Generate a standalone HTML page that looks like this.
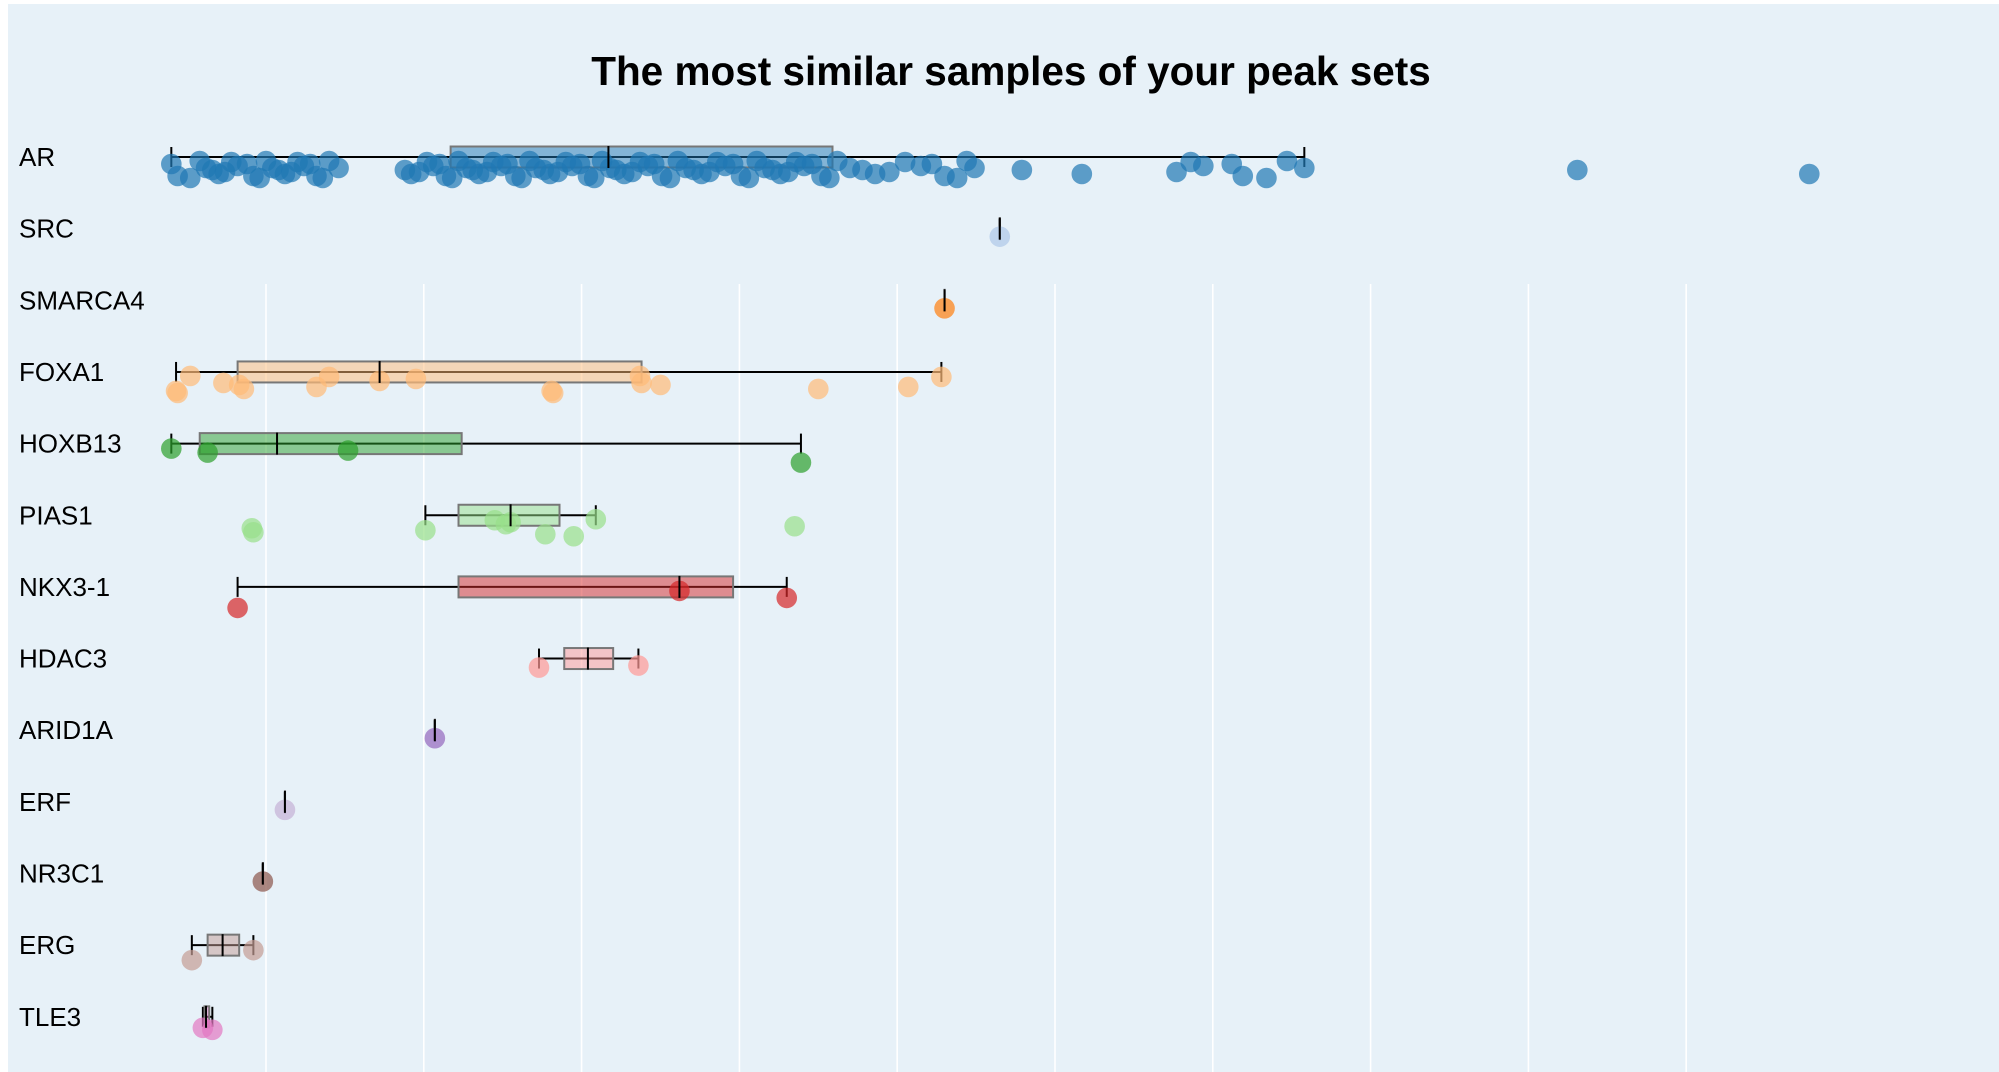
<!DOCTYPE html>
<html><head><meta charset="utf-8">
<style>
html,body{margin:0;padding:0;background:#fff;}
svg{display:block;font-family:"Liberation Sans",Arial,sans-serif;}
</style></head>
<body>
<svg id="chart" width="1999" height="1072" viewBox="0 0 1999 1072" xmlns="http://www.w3.org/2000/svg">
<rect x="8" y="4" width="1991" height="1068" fill="#e7f1f8"/>
<text x="1011" y="85" text-anchor="middle" font-size="40.5" font-weight="bold" fill="#000">The most similar samples of your peak sets</text>
<g id="grid"></g><g id="rows"></g>
</svg>
<script>
const categories=["AR","SRC","SMARCA4","FOXA1","HOXB13","PIAS1","NKX3-1","HDAC3","ARID1A","ERF","NR3C1","ERG","TLE3"];
const colors=["#1f77b4","#aec7e8","#ff7f0e","#ffbb78","#2ca02c","#98df8a","#d62728","#ff9896","#9467bd","#c5b0d5","#8c564b","#c49c94","#e377c2"];
const boxStats=[
 [0.40,2.17,3.17,4.59,7.58],[5.65,5.65,5.65,5.65,5.65],[5.30,5.30,5.30,5.30,5.30],
 [0.43,0.82,1.72,3.38,5.28],[0.40,0.58,1.07,2.24,4.39],[2.01,2.22,2.55,2.86,3.09],
 [0.82,2.22,3.62,3.96,4.30],[2.73,2.89,3.04,3.20,3.36],[2.07,2.07,2.07,2.07,2.07],
 [1.12,1.12,1.12,1.12,1.12],[0.98,0.98,0.98,0.98,0.98],[0.53,0.63,0.725,0.83,0.92],
 [0.60,0.61,0.62,0.64,0.66]];
const pointsAR=[0.40,0.44,0.52,0.58,0.62,0.66,0.70,0.74,0.78,0.82,0.88,0.92,0.96,1.00,1.04,1.08,1.12,1.16,1.20,1.24,1.28,1.32,1.36,1.40,1.46,
1.88,1.92,1.97,2.02,2.06,2.10,2.14,2.18,2.22,2.27,2.31,2.35,2.40,2.44,2.49,2.53,2.58,2.62,2.67,2.71,2.76,2.80,2.85,2.90,2.94,2.99,3.04,3.08,3.13,3.18,3.22,3.27,3.32,3.37,3.42,3.46,3.51,3.56,3.61,3.66,3.71,3.76,3.81,3.86,3.91,3.96,4.01,4.06,4.11,4.16,4.21,4.26,4.31,4.36,4.41,4.46,4.52,4.57,4.62,4.70,4.78,4.86,4.95,5.05,5.15,5.22,5.30,5.38,5.44,5.49,
5.79,6.17,6.77,6.86,6.94,7.12,7.19,7.34,7.47,7.58,9.31,10.78];
const pointsOther=[
 [5.65],[5.30],
 [0.43,0.44,0.52,0.73,0.83,0.86,1.32,1.40,1.72,1.95,2.81,2.82,3.37,3.38,3.50,4.50,5.07,5.28],
 [0.40,0.63,1.52,4.39],
 [0.91,0.92,2.01,2.45,2.52,2.55,2.77,2.95,3.09,4.35],
 [0.82,3.62,4.30],[2.73,3.36],[2.07],[1.12],[0.98],[0.53,0.92],[0.60,0.66]];
const gridTicks=[1,2,3,4,5,6,7,8,9,10];

const X0=108.2, UNIT=157.8, ROW0=157, ROWH=71.65;
const xs=v=>X0+v*UNIT;
const ys=i=>ROW0+i*ROWH;
const NS="http://www.w3.org/2000/svg";
function mk(tag,attrs,parent){const e=document.createElementNS(NS,tag);for(const k in attrs)e.setAttribute(k,attrs[k]);parent.appendChild(e);return e;}
const grid=document.getElementById('grid'), rows=document.getElementById('rows');
gridTicks.forEach(t=>{
 const l=mk('line',{x1:xs(t),x2:xs(t),y1:284,y2:1072,stroke:'#ffffff','stroke-width':1.6},grid);
 
 
});
const offs=[7,15,11,19,5,13,21,9,17,4];
categories.forEach((c,i)=>{
 const g=mk('g',{},rows);
 
 
 const cy=ys(i);
 const lab=mk('text',{x:19,y:cy+9,'font-size':26,fill:'#000'},g);lab.textContent=c;
 
 
 const [lo,q1,md,q3,hi]=boxStats[i];
 const w=mk('line',{x1:xs(lo),x2:xs(hi),y1:cy,y2:cy,stroke:'#000','stroke-width':2},g);
 
 
 [lo,hi].forEach(v=>{const cap=mk('line',{x1:xs(v),x2:xs(v),y1:cy-10,y2:cy+10,stroke:'#000','stroke-width':2},g);
  
  });
 const b=mk('rect',{x:xs(q1),y:cy-10.5,width:Math.max(xs(q3)-xs(q1),0.1),height:21,fill:colors[i],'fill-opacity':0.5,stroke:'#777','stroke-width':2},g);
 
 
 const pts=i===0?pointsAR:pointsOther[i-1];
 pts.forEach((v,j)=>{
  const off=pts.length<=1?8:offs[(j*3+i)%offs.length];
  const p=mk('circle',{cx:xs(v),cy:cy+off,r:10.3,fill:colors[i],'fill-opacity':0.7},g);
  
  
 });
 const m=mk('line',{x1:xs(md),x2:xs(md),y1:cy-11,y2:cy+11,stroke:'#000','stroke-width':2},g);
 
 
});
</script>
</body></html>
